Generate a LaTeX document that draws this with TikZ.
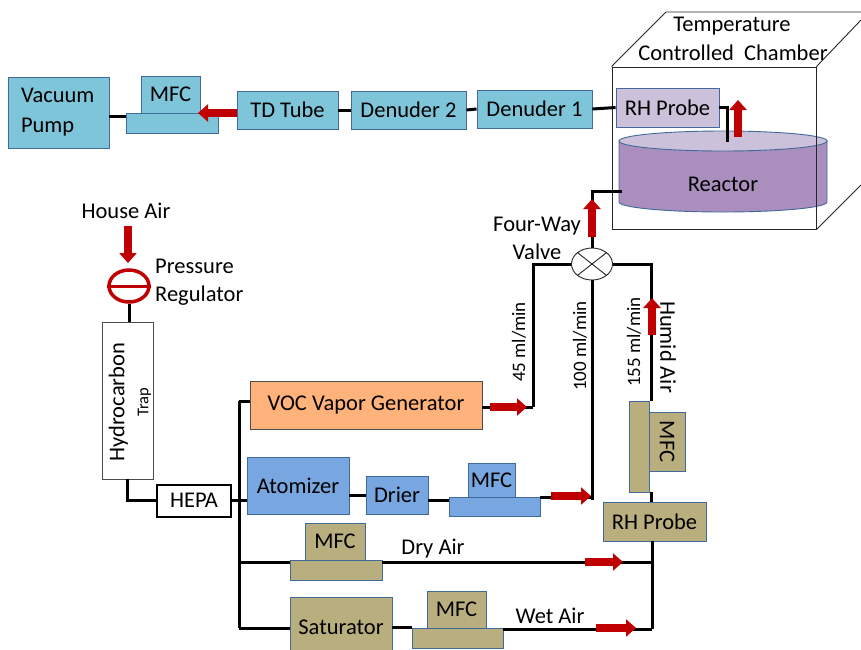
\documentclass[tikz,border=0pt]{standalone}
\usepackage{fontspec}
\usepackage{xcolor}
\usetikzlibrary{shapes,arrows.meta,positioning}
\setmainfont{Carlito}
\definecolor{edgeblue}{RGB}{65, 105, 155}
\definecolor{tealfill}{RGB}{126, 197, 218}
\definecolor{bluefill}{RGB}{120, 166, 224}
\definecolor{tanfill}{RGB}{185, 175, 126}
\definecolor{orangefill}{RGB}{255, 178, 122}
\definecolor{purplefill}{RGB}{170, 143, 190}
\definecolor{lilacfill}{RGB}{204, 193, 218}
\definecolor{flowred}{RGB}{192, 0, 0}

\begin{document}
\begin{tikzpicture}[
    x=1pt, y=-1pt,
    node distance=100pt,
    every node/.style={align=center, inner sep=0pt, text=black, font=\fontsize{22.5}{28}\selectfont},
    block/.style={rectangle, draw=edgeblue, line width=0.9pt, text centered},
    teal/.style={block, fill=tealfill},
    blue/.style={block, fill=bluefill},
    tan/.style={block, fill=tanfill},
    lilac/.style={block, fill=lilacfill},
    rate/.style={rotate=90, font=\fontsize{19}{22}\selectfont},
    pipe/.style={line width=3pt, black},
    flow/.style={line width=8pt, flowred, -{Triangle[width=17pt,length=10pt]}}
]
\useasboundingbox (0,0) rectangle (861,649);

% Sampling line
\node[teal, minimum width=101pt, minimum height=71pt, text width=75pt, align=left, font=\fontsize{22.5}{30}\selectfont] (pump) at (58.5,112.5) {Vacuum\\Pump};
\node[teal, right of=pump, xshift=13.5pt, yshift=-10.5pt, minimum width=92pt, minimum height=20pt] (pumpbase) {};
\node[teal, right of=pump, xshift=12pt, yshift=18pt, minimum width=59pt, minimum height=37pt] (pumpmfc) {MFC};
\node[teal, right of=pumpbase, xshift=15.5pt, yshift=13pt, minimum width=101pt, minimum height=38pt] (tdtube) {TD Tube};
\node[teal, right of=tdtube, xshift=21pt, minimum width=115pt, minimum height=38pt] (denudertwo) {Denuder 2};
\node[teal, right of=denudertwo, xshift=26pt, yshift=1pt, minimum width=115pt, minimum height=38pt] (denuderone) {Denuder 1};

% Chamber
\node[lilac, right of=denuderone, xshift=33pt, yshift=1.5pt, minimum width=103pt, minimum height=39pt] (probetop) {RH Probe};
\draw[edgeblue, line width=0.9pt, fill=purplefill] (619,141) -- (619,202) arc[start angle=180, end angle=360, x radius=104pt, y radius=10pt] -- (827,141) -- cycle;
\draw[edgeblue, line width=0.9pt, fill=lilacfill] (723,141) ellipse[x radius=104pt, y radius=10pt];
\node (reactorlabel) at (723,184) {Reactor};
\node[rectangle, draw=black!85, line width=0.9pt, right of=probetop, xshift=-53.5pt, yshift=-40.5pt, minimum width=204pt, minimum height=162pt] (chamber) {};
\draw[black!85, line width=0.9pt] (chamber.north west) -- (666,12) -- (861,12);
\draw[black!85, line width=0.9pt] (chamber.north east) -- (861,20);
\draw[black!85, line width=0.9pt] (chamber.south east) -- (861,185);
\node (tempa) at (732,26.5) {Temperature};
\node (tempb) at (733,53) {Controlled\ \ Chamber};

% Valve
\node[ellipse, draw=black!85, line width=0.9pt, fill=white, minimum width=41pt, minimum height=32pt, below of=chamber, xshift=-122pt, yshift=-16pt] (valve) {};
\draw[black!85, line width=0.9pt] (valve.north west) -- (valve.south east);
\draw[black!85, line width=0.9pt] (valve.north east) -- (valve.south west);
\node (valvelabel) at (537,238) {Four-Way\\Valve};

% House air
\node (house) at (126,211) {House Air};
\node[ellipse, draw=flowred, line width=3.5pt, minimum width=40pt, minimum height=32pt, below of=house, xshift=3pt, yshift=25pt] (regulator) {};
\draw[flowred, line width=3pt] (regulator.west) -- (regulator.east);
\node[right of=regulator, anchor=west, xshift=-74pt, yshift=4pt, align=left] (reglabel) {Pressure\\Regulator};
\node[rectangle, draw=black!70, line width=0.9pt, fill=white, below of=regulator, xshift=-1.5pt, yshift=-14.5pt, minimum width=51pt, minimum height=157pt] (trap) {};
\node[rotate=90] (traptext) at (130,402) {Hydrocarbon\\[-4pt]{\fontsize{16.5}{17}\selectfont Trap}};
\node[rectangle, draw=black, line width=2pt, fill=white, below of=trap, xshift=66.5pt, minimum width=74pt, minimum height=32pt] (hepa) {HEPA};

% Generators
\node[block, draw=black!70, fill=orangefill, right of=trap, xshift=138.5pt, yshift=-4.5pt, minimum width=232pt, minimum height=48pt] (vocgen) {VOC Vapor Generator};
\node[blue, below of=vocgen, xshift=-68pt, yshift=19.5pt, minimum width=102pt, minimum height=57pt] (atomizer) {Atomizer};
\node[blue, right of=atomizer, xshift=-1pt, yshift=-9.5pt, minimum width=62pt, minimum height=38pt] (drier) {Drier};
\node[blue, right of=drier, xshift=-2.5pt, yshift=-11.5pt, minimum width=91pt, minimum height=19pt] (atombase) {};
\node[blue, above of=atombase, xshift=-3pt, yshift=-73.5pt, minimum width=47pt, minimum height=34pt] (atommfc) {MFC};
\node[tan, below of=atomizer, xshift=38pt, yshift=15.5pt, minimum width=92pt, minimum height=20pt] (drybase) {};
\node[tan, above of=drybase, xshift=-1pt, yshift=-71.5pt, minimum width=60pt, minimum height=37pt] (drymfc) {MFC};
\node[tan, below of=drybase, xshift=5pt, yshift=43pt, minimum width=102pt, minimum height=60pt] (saturator) {Saturator};
\node[tan, right of=saturator, xshift=16.5pt, yshift=-11pt, minimum width=91pt, minimum height=20pt] (wetbase) {};
\node[tan, above of=wetbase, xshift=-1pt, yshift=-71.5pt, minimum width=59pt, minimum height=37pt] (wetmfc) {MFC};
\node[tan, right of=atombase, xshift=60pt, yshift=-15pt, minimum width=103pt, minimum height=39pt] (probelow) {RH Probe};
\node[tan, above of=probelow, xshift=-15.5pt, yshift=-25pt, minimum width=20pt, minimum height=91pt] (humidbase) {};
\node[tan, rotate=-90, minimum width=59pt, minimum height=36pt] (humidmfc) at (667,441.5) {MFC};

% Labels
\node[rate] (rateone) at (519,342) {45 ml/min};
\node[rate] (ratetwo) at (580,346) {100 ml/min};
\node[rate] (ratethree) at (634,342) {155 ml/min};
\node[rotate=-90] (humidlabel) at (668,347) {Humid Air};
\node (drylabel) at (433,549) {Dry Air};
\node (wetlabel) at (550,616) {Wet Air};

% Junctions
\coordinate (pumppoint) at (126,116.5);
\coordinate (drierpoint) at (449,500);
\coordinate (probeout) at (727,142);
\coordinate (reactorin) at (622,191);
\coordinate (buspoint) at (239,500);
\coordinate (bustop) at (239,401);
\coordinate (busdry) at (239,562);
\coordinate (busbottom) at (239,628);
\coordinate (vocpoint) at (533,407);
\coordinate (atompoint) at (592,497);
\coordinate (humidpoint) at (651,401);
\coordinate (drypoint) at (652,562);
\coordinate (wetpoint) at (652,629);

% Pipes
\draw[pipe] (pump.east |- pumppoint) -- (pumppoint);
\draw[pipe] (tdtube.east) -- (denudertwo.west);
\draw[pipe] (denudertwo.east) -- (denuderone.west);
\draw[pipe] (denuderone.east) -- (probetop.west);
\draw[pipe] (probetop.east) -| (probeout);
\draw[pipe] (valve.north) |- (reactorin);
\draw[pipe] (regulator.south) -- (regulator.south |- trap.north);
\draw[pipe] (trap.south) |- (hepa.west);
\draw[pipe] (hepa.east |- buspoint) -- (atomizer.west |- buspoint);
\draw[pipe] (bustop) -- (busbottom);
\draw[pipe] (bustop) -- (bustop -| vocgen.west);
\draw[pipe] (busdry) -- (busdry -| drybase.west);
\draw[pipe] (busbottom) -- (busbottom -| saturator.west);
\draw[pipe] (atomizer.east |- drier.east) -- (drier.west);
\draw[pipe] (drier.east |- drierpoint) -- (drierpoint);
\draw[pipe] (vocgen.east |- vocpoint) -- (vocpoint);
\draw[pipe] (valve.west) -| (vocpoint);
\draw[pipe] (atombase.east |- atompoint) -- (atompoint);
\draw[pipe] (valve.south) -- ([yshift=-3pt]atompoint);
\draw[pipe] (valve.east) -| (humidpoint);
\draw[pipe] (humidbase.south -| humidpoint) -- (probelow.north -| humidpoint);
\draw[pipe] (drybase.east |- drypoint) -- (drypoint);
\draw[pipe] (saturator.east |- wetbase.north) -- (wetbase.north west);
\draw[pipe] (wetbase.east |- wetpoint) -- (wetpoint);
\draw[pipe] (probelow.south -| wetpoint) -- (wetpoint);

% Flow arrows
\coordinate (arrowpumpa) at (237,113);
\coordinate (arrowpumpb) at (198,113);
\coordinate (arrowouta) at (738,137);
\coordinate (arrowoutb) at (738,100);
\coordinate (arrowvalvea) at (592,237);
\coordinate (arrowvalveb) at (592,199);
\coordinate (arrowhousea) at (128,226);
\coordinate (arrowhouseb) at (128,263);
\coordinate (arrowvoca) at (490,407);
\coordinate (arrowvocb) at (527,407);
\coordinate (arrowatoma) at (551,496);
\coordinate (arrowatomb) at (591,496);
\coordinate (arrowdrya) at (585,562);
\coordinate (arrowdryb) at (623,562);
\coordinate (arrowweta) at (596,628);
\coordinate (arrowwetb) at (636,628);
\coordinate (arrowhumida) at (652,335);
\coordinate (arrowhumidb) at (652,298);
\foreach \from/\to in {arrowpumpa/arrowpumpb, arrowouta/arrowoutb, arrowvalvea/arrowvalveb, arrowhousea/arrowhouseb, arrowvoca/arrowvocb, arrowatoma/arrowatomb, arrowdrya/arrowdryb, arrowweta/arrowwetb, arrowhumida/arrowhumidb}
    \draw[flow] (\from) -- (\to);

\end{tikzpicture}
\end{document}
